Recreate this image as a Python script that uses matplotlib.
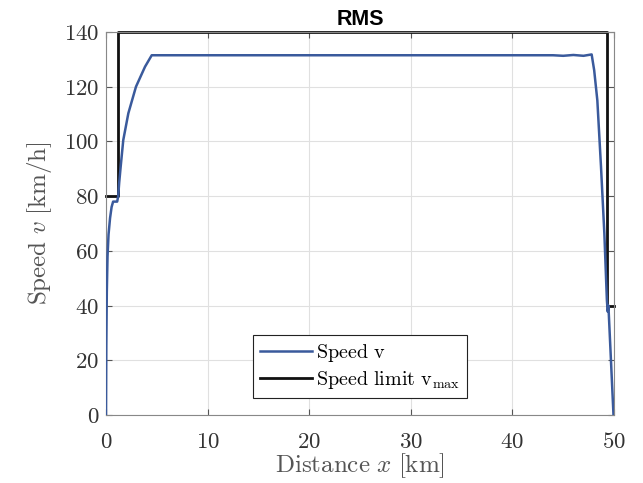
import matplotlib
matplotlib.use("Agg")
import matplotlib.pyplot as plt

plt.rcParams['font.family'] = ['Liberation Serif', 'DejaVu Serif']
plt.rcParams['mathtext.fontset'] = 'cm'

# Speed limit profile (km, km/h)
limit_x = [0.0, 1.2, 1.2, 49.3, 49.3, 50.0]
limit_v = [80, 80, 140, 140, 40, 40]

# Speed profile (km, km/h)
speed_x = [0.0, 0.03, 0.08, 0.15, 0.25, 0.4, 0.55, 0.7, 1.1, 1.2, 1.3, 1.45,
           1.7, 2.2, 2.95, 3.84, 4.5, 44.0, 45.0, 46.0, 47.0, 47.8, 48.05,
           48.36, 48.72, 49.05, 49.3, 49.38, 49.45, 49.95]
speed_v = [0, 25, 45, 58, 66, 72, 76, 78, 78, 80, 85, 91,
           100.5, 110.3, 120, 127.3, 131.5, 131.5, 131.3, 131.6, 131.3, 131.8, 126,
           115, 90.8, 66.4, 42, 37.8, 40, 0]

xticks = [0, 10, 20, 30, 40, 50]
yticks = [0, 20, 40, 60, 80, 100, 120, 140]

fig = plt.figure(figsize=(6.43, 4.83), dpi=100)
ax = fig.add_axes([106/643, 1-415/483, 508/643, 383/483])

ax.plot(speed_x, speed_v, color='#3a5a9c', lw=1.8, label=r'$\mathrm{Speed\ v}$', zorder=3)
ax.plot(limit_x, limit_v, color='#111111', lw=2.0,
        label=r'$\mathrm{Speed\ limit\ v_{max}}$', zorder=2, clip_on=False)

ax.set_xlim(0, 50)
ax.set_ylim(0, 140)
ax.set_xticks(xticks)
ax.set_xticklabels([r'$\mathrm{%d}$' % t for t in xticks])
ax.set_yticks(yticks)
ax.set_yticklabels([r'$\mathrm{%d}$' % t for t in yticks])
ax.grid(True, color='#e0e0e0', lw=0.8)
ax.set_axisbelow(True)
for s in ax.spines.values():
    s.set_color('#888888')
    s.set_linewidth(0.8)
ax.tick_params(direction='in', top=True, right=True, length=4, color='#555555',
               labelsize=16.5, labelcolor='#333333', pad=5)
ax.tick_params(axis='x', pad=12)

ax.set_xlabel(r'$\mathrm{Distance}\ x\ [\mathrm{km}]$', fontsize=18, color='#555555', labelpad=-1)
ax.set_ylabel(r'$\mathrm{Speed}\ v\ [\mathrm{km/h}]$', fontsize=18, color='#555555', labelpad=7)
ax.set_title('RMS', fontsize=15.5, fontweight='bold', family='Liberation Sans', pad=5)

leg = ax.legend(loc='lower center', bbox_to_anchor=(0.5, 0.044), fontsize=14.5,
                frameon=True, fancybox=False, edgecolor='#222222', framealpha=1,
                handlelength=2.6, handletextpad=0.2, borderpad=0.35, labelspacing=0.25,
                borderaxespad=0)
leg.get_frame().set_linewidth(0.8)

fig.savefig('out.png', dpi=100)
